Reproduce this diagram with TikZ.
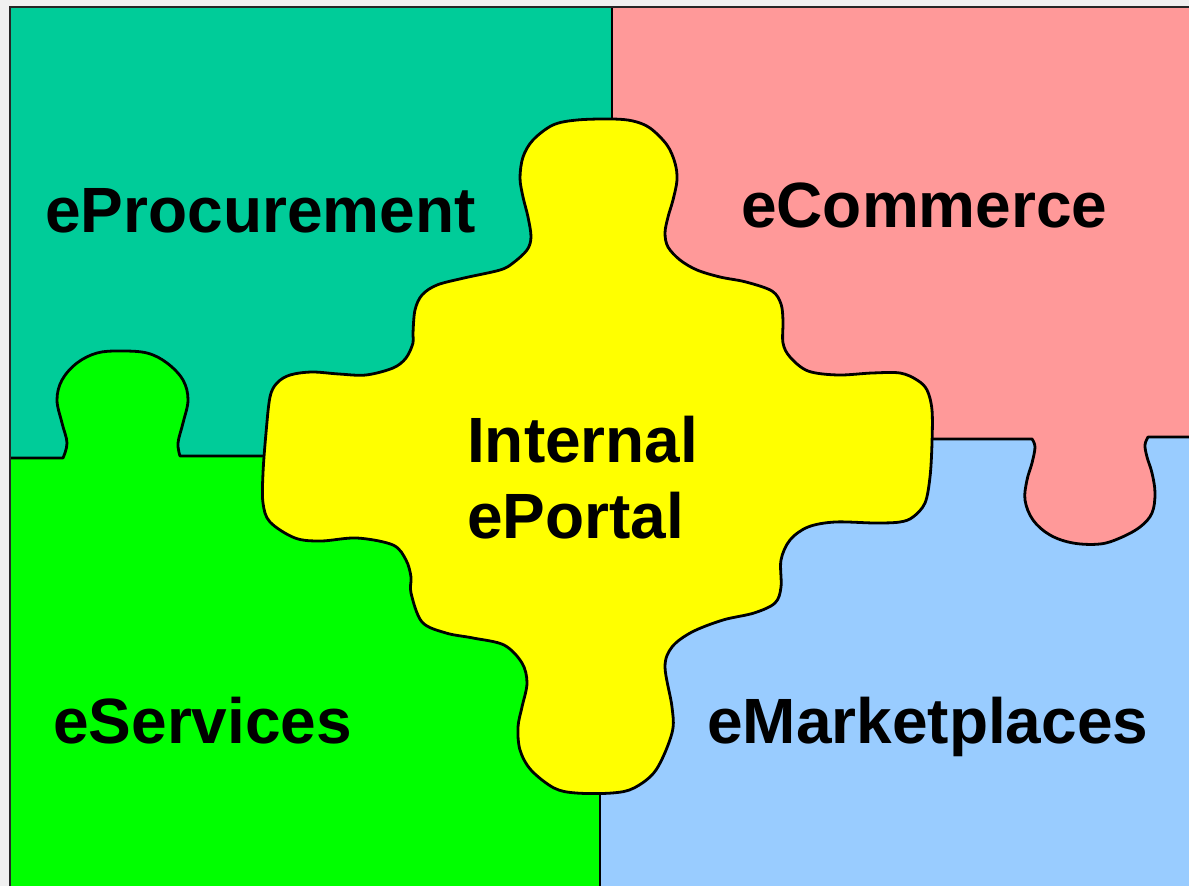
\documentclass[tikz,border=0pt]{standalone}
\usepackage{fontspec}
\setmainfont{Liberation Sans}
\definecolor{cBg}{HTML}{F0F0F0}
\definecolor{cTeal}{HTML}{00CC99}
\definecolor{cPink}{HTML}{FF9999}
\definecolor{cGreen}{HTML}{00FF00}
\definecolor{cBlue}{HTML}{99CCFF}
\definecolor{cYellow}{HTML}{FFFF00}
\begin{document}
\begin{tikzpicture}[x=1pt,y=-1pt,
  piece/.style={draw=black,line width=2.8pt,line join=round},
  seam/.style={draw=black,line width=1.5pt},
  frameline/.style={draw=black!85,line width=2.2pt},
  lbl/.style={font=\fontsize{64}{76}\selectfont\bfseries,inner sep=0pt,anchor=base west,text=black}]
\useasboundingbox (0,0) rectangle (1189,886);
\fill[cBg] (0,0) rectangle (1189,886);
% quadrants
\fill[cTeal] (10,7) rectangle (612,460);
\fill[cPink] (612,7) rectangle (1189,440);
\fill[cBlue] (600,438) rectangle (1189,886);
\fill[cGreen] (10,457) rectangle (600,886);
% tabs
\fill[cGreen] (63,460) -- plot[smooth,tension=0.6] coordinates {(63,458) (67,443) (62,423) (57,400) (62,380) (77,363) (97,353) (120,351) (147,353) (167,363) (183,380) (188,400) (183,423) (178,443) (180,456)} -- (180,460) -- cycle;
\fill[cPink] (1032,436) -- plot[smooth,tension=0.6] coordinates {(1032,439) (1035,447) (1032,463) (1027,480) (1025,500) (1033,520) (1050,535) (1073,543) (1100,544) (1120,538) (1140,527) (1152,513) (1155,493) (1152,473) (1147,457) (1145,445) (1148,437)} -- (1148,436) -- cycle;
% seams
\draw[piece] (10,458) -- plot[smooth,tension=0.6] coordinates {(63,458) (67,443) (62,423) (57,400) (62,380) (77,363) (97,353) (120,351) (147,353) (167,363) (183,380) (188,400) (183,423) (178,443) (180,456)} -- (266,456);
\draw[piece] (928,439) -- plot[smooth,tension=0.6] coordinates {(1032,439) (1035,447) (1032,463) (1027,480) (1025,500) (1033,520) (1050,535) (1073,543) (1100,544) (1120,538) (1140,527) (1152,513) (1155,493) (1152,473) (1147,457) (1145,445) (1148,437)} -- (1189,437);
\draw[seam] (612,7) -- (612,122);
\draw[seam] (600,790) -- (600,886);
% frame
\draw[frameline] (10,886) -- (10,7) -- (1189,7);
% central piece
\filldraw[piece,fill=cYellow] plot[smooth cycle,tension=0.55] coordinates {
(553,125) (577,120) (612,119) (633,121) (650,128) (667,145) (675,163) (677,180) (673,200) (668,217) (665,233) (668,247) (680,260) (697,270) (720,277) (746,282) (772,291) (781,304) (783,321) (783,343) (790,357) (808,371) (838,375) (872,373) (900,373) (917,380) (927,390) (932,410) (932,443) (930,477) (925,503) (913,517) (900,522) (875,523) (835,522) (808,527) (790,540) (781,560) (781,587) (775,603) (754,613) (723,620) (692,632) (672,647) (665,667) (672,707) (672,733) (656,770) (634,788) (612,793) (576,793) (554,788) (531,770) (520,750) (518,727) (522,707) (527,683) (522,663) (504,645) (473,638) (446,633) (422,622) (411,593) (411,577) (406,560) (393,545) (357,538) (321,541) (295,538) (270,522) (263,503) (263,473) (266,433) (270,397) (277,383) (290,375) (312,372) (339,374) (366,375) (393,368) (406,358) (413,343) (413,333) (415,310) (422,295) (437,285) (464,278) (500,270) (513,263) (527,250) (531,237) (528,217) (523,197) (520,178) (523,157) (533,140)};
% labels
\node[lbl] (proc) at (45,232) {eProcurement};
\node[lbl] (comm) at (741,227) {eCommerce};
\node[lbl,align=left] (portal) at (467,538) {Internal\\ePortal};
\node[lbl] (serv) at (53,743) {eServices};
\node[lbl] (mkt) at (707,743) {eMarketplaces};
\end{tikzpicture}
\end{document}
